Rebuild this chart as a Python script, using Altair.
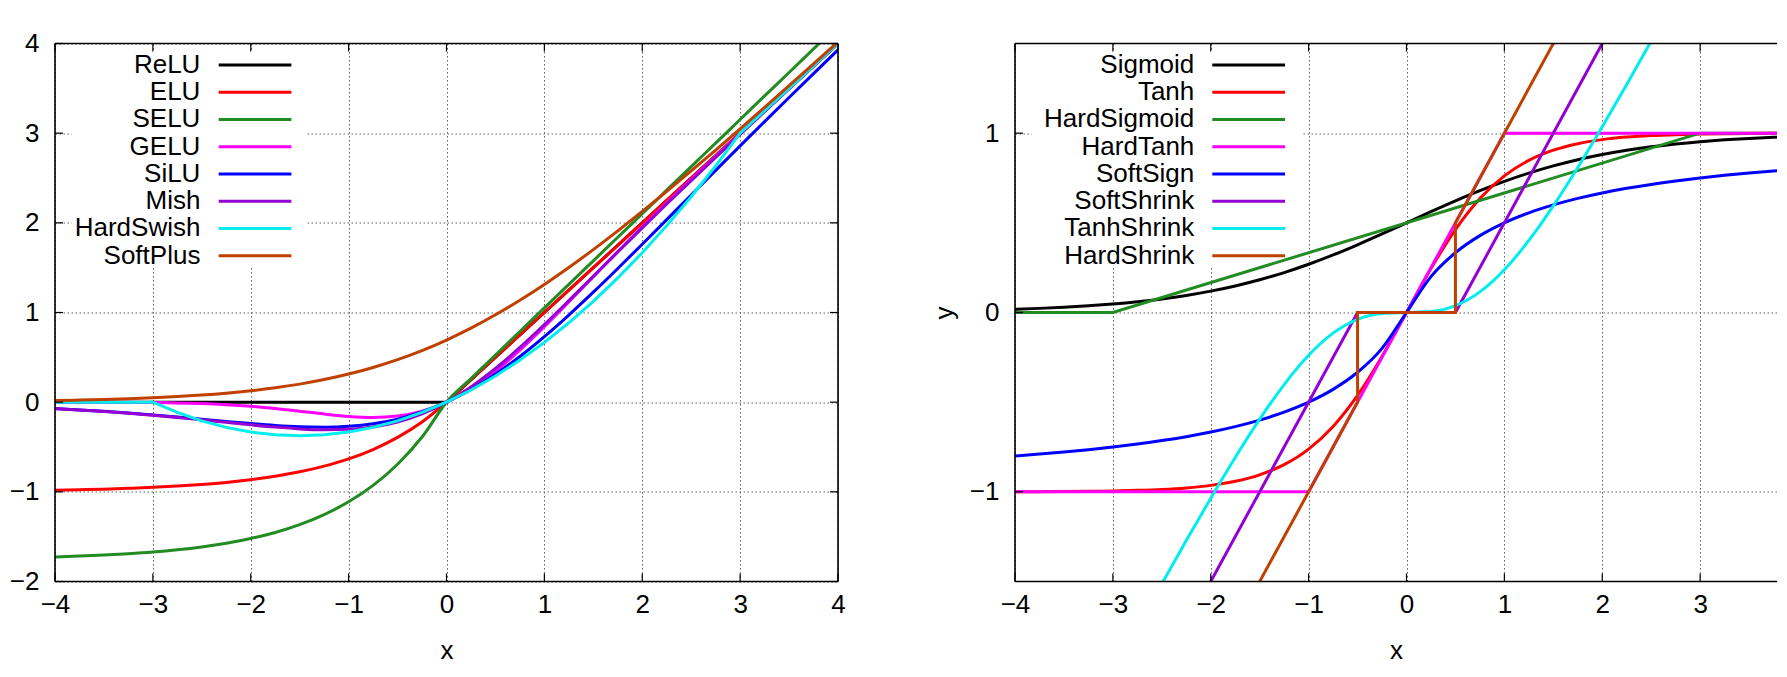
import altair as alt
import pandas as pd

FONT = "Liberation Sans"

# ---------------- data ----------------
XG = [-4.0, -3.75, -3.5, -3.25, -3.0, -2.75, -2.5, -2.25, -2.0, -1.75, -1.5, -1.25,
      -1.0, -0.75, -0.5, -0.25, 0.0, 0.25, 0.5, 0.75, 1.0, 1.25, 1.5, 1.75, 2.0,
      2.25, 2.5, 2.75, 3.0, 3.25, 3.5, 3.75, 4.0]

LEFT_XTICKS = [-4, -3, -2, -1, 0, 1, 2, 3, 4]
RIGHT_XTICKS = [-4, -3, -2, -1, 0, 1, 2, 3]
LEFT_YTICKS = [-2, -1, 0, 1, 2, 3, 4]
RIGHT_YTICKS = [-1, 0, 1]

left_names = ["ReLU", "ELU", "SELU", "GELU", "SiLU", "Mish", "HardSwish", "SoftPlus"]
right_names = ["Sigmoid", "Tanh", "HardSigmoid", "HardTanh", "SoftSign",
               "SoftShrink", "TanhShrink", "HardShrink"]
colors = ["#000000", "#ff0000", "#228b22", "#ff00ff", "#0000ff", "#9400d3",
          "#00eeee", "#c04000"]

# left panel
RELU_X = [-4, 0, 4]
RELU_Y = [0, 0, 4]
ELU = [-0.982, -0.976, -0.970, -0.961, -0.950, -0.936, -0.918, -0.895, -0.865, -0.826,
       -0.777, -0.713, -0.632, -0.528, -0.393, -0.221, 0, 0.25, 0.5, 0.75, 1, 1.25,
       1.5, 1.75, 2, 2.25, 2.5, 2.75, 3, 3.25, 3.5, 3.75, 4]
SELU = [-1.726, -1.717, -1.705, -1.690, -1.671, -1.646, -1.614, -1.573, -1.520, -1.453,
        -1.366, -1.254, -1.111, -0.928, -0.692, -0.389, 0, 0.263, 0.525, 0.788, 1.051,
        1.313, 1.576, 1.839, 2.101, 2.364, 2.627, 2.889, 3.152, 3.415, 3.677, 3.940, 4.203]
GELU = [-0.0001, -0.0003, -0.0008, -0.0019, -0.0041, -0.0082, -0.0155, -0.0275, -0.0455,
        -0.0701, -0.1002, -0.1321, -0.1587, -0.1700, -0.1543, -0.1003, 0, 0.1497, 0.3457,
        0.5800, 0.8413, 1.1179, 1.3998, 1.6799, 1.9545, 2.2225, 2.4845, 2.7418, 2.9960,
        3.2481, 3.4992, 3.7497, 3.9999]
SILU = [-0.0719, -0.0861, -0.1026, -0.1213, -0.1423, -0.1653, -0.1897, -0.2145, -0.2384,
        -0.2591, -0.2736, -0.2784, -0.2689, -0.2406, -0.1888, -0.1095, 0, 0.1406, 0.3112,
        0.5094, 0.7311, 0.9716, 1.2264, 1.4909, 1.7616, 2.0355, 2.3104, 2.5848, 2.8577,
        3.1287, 3.3974, 3.6639, 3.9281]
MISH = [-0.0726, -0.0872, -0.1041, -0.1236, -0.1456, -0.1702, -0.1968, -0.2247, -0.2525,
        -0.2780, -0.2981, -0.3084, -0.3034, -0.2765, -0.2207, -0.1299, 0, 0.1696, 0.3752,
        0.6100, 0.8651, 1.1319, 1.4034, 1.6749, 1.9440, 2.2095, 2.4714, 2.7302, 2.9865,
        3.2410, 3.4940, 3.7460, 3.9974]
HARDSWISH = [0, 0, 0, 0, 0, -0.1146, -0.2083, -0.2813, -0.3333, -0.3646, -0.375, -0.3646,
             -0.3333, -0.2813, -0.2083, -0.1146, 0, 0.1354, 0.2917, 0.4688, 0.6667, 0.8854,
             1.125, 1.3854, 1.6667, 1.9688, 2.2917, 2.6354, 3, 3.25, 3.5, 3.75, 4]
SOFTPLUS = [0.0182, 0.0232, 0.0298, 0.0380, 0.0486, 0.0620, 0.0789, 0.1002, 0.1269, 0.1602,
            0.2014, 0.2519, 0.3133, 0.3869, 0.4741, 0.5751, 0.6931, 0.8251, 0.9741, 1.1369,
            1.3133, 1.5019, 1.7014, 1.9102, 2.1269, 2.3502, 2.5789, 2.8120, 3.0486, 3.2880,
            3.5298, 3.7732, 4.0182]

# right panel
SIGMOID = [0.0180, 0.0230, 0.0293, 0.0373, 0.0474, 0.0601, 0.0759, 0.0953, 0.1192, 0.1480,
           0.1824, 0.2227, 0.2689, 0.3208, 0.3775, 0.4378, 0.5, 0.5622, 0.6225, 0.6792,
           0.7311, 0.7773, 0.8176, 0.8520, 0.8808, 0.9047, 0.9241, 0.9399, 0.9526, 0.9627,
           0.9707, 0.9770, 0.9820]
TANH = [-0.9993, -0.9989, -0.9982, -0.9970, -0.9951, -0.9918, -0.9866, -0.9780, -0.9640,
        -0.9414, -0.9051, -0.8483, -0.7616, -0.6351, -0.4621, -0.2449, 0, 0.2449, 0.4621,
        0.6351, 0.7616, 0.8483, 0.9051, 0.9414, 0.9640, 0.9780, 0.9866, 0.9918, 0.9951,
        0.9970, 0.9982, 0.9989, 0.9993]
HSIG_X = [-4, -3, 3, 4]
HSIG_Y = [0, 0, 1, 1]
HTANH_X = [-4, -1, 1, 4]
HTANH_Y = [-1, -1, 1, 1]
SOFTSIGN = [-0.8, -0.7895, -0.7778, -0.7647, -0.75, -0.7333, -0.7143, -0.6923, -0.6667,
            -0.6364, -0.6, -0.5556, -0.5, -0.4286, -0.3333, -0.2, 0, 0.2, 0.3333, 0.4286,
            0.5, 0.5556, 0.6, 0.6364, 0.6667, 0.6923, 0.7143, 0.7333, 0.75, 0.7647, 0.7778,
            0.7895, 0.8]
SSHRINK_X = [-4, -0.5, 0.5, 4]
SSHRINK_Y = [-3.5, 0, 0, 3.5]
TANHSHRINK = [-3.0007, -2.7511, -2.5018, -2.2530, -2.0049, -1.7582, -1.5134, -1.2720,
              -1.0360, -0.8086, -0.5949, -0.4017, -0.2384, -0.1149, -0.0379, -0.0051, 0,
              0.0051, 0.0379, 0.1149, 0.2384, 0.4017, 0.5949, 0.8086, 1.0360, 1.2720,
              1.5134, 1.7582, 2.0049, 2.2530, 2.5018, 2.7511, 3.0007]
HSHRINK_X = [-4, -0.5, -0.5, 0.5, 0.5, 4]
HSHRINK_Y = [-4, -0.5, 0, 0, 0.5, 4]

left_series = [
    ("ReLU", RELU_X, RELU_Y, "linear"),
    ("ELU", XG, ELU, "monotone"),
    ("SELU", XG, SELU, "monotone"),
    ("GELU", XG, GELU, "monotone"),
    ("SiLU", XG, SILU, "monotone"),
    ("Mish", XG, MISH, "monotone"),
    ("HardSwish", XG, HARDSWISH, "linear"),
    ("SoftPlus", XG, SOFTPLUS, "monotone"),
]
right_series = [
    ("Sigmoid", XG, SIGMOID, "monotone"),
    ("Tanh", XG, TANH, "monotone"),
    ("HardSigmoid", HSIG_X, HSIG_Y, "linear"),
    ("HardTanh", HTANH_X, HTANH_Y, "linear"),
    ("SoftSign", XG, SOFTSIGN, "monotone"),
    ("SoftShrink", SSHRINK_X, SSHRINK_Y, "linear"),
    ("TanhShrink", XG, TANHSHRINK, "monotone"),
    ("HardShrink", HSHRINK_X, HSHRINK_Y, "linear"),
]

# ---------------- layout ----------------
PX_PER_UNIT = 97.875
W_LEFT = 783
W_RIGHT = 762          # right panel is cut off by the page edge, as in the picture
H = 538
TL = 8
LY0, LDY = 21.5, 27.24
LW = 3


def panel(series, names, xmax, width, xticks, ydom, yvals, ytitle,
          text_x, line_x1, line_x2, box, right_border):
    color = alt.Color("series:N", scale=alt.Scale(domain=names, range=colors), legend=None)
    xscale = alt.Scale(domain=[-4, xmax], nice=False, zero=False)
    yscale = alt.Scale(domain=ydom, nice=False, zero=False)
    xenc = alt.X("x:Q", scale=xscale,
                 axis=alt.Axis(values=xticks, title="x", labelFlush=False))
    if ytitle:
        yaxis = alt.Axis(values=yvals, title=ytitle, labelFlush=False)
    else:
        yaxis = alt.Axis(values=yvals, title=None, labelFlush=False)
    yenc = alt.Y("y:Q", scale=yscale, axis=yaxis)

    layers = []
    boxdf = pd.DataFrame({"k": [0]})
    # opaque key background
    layers.append(
        alt.Chart(boxdf).mark_rect(color="white").encode(
            x=alt.value(box[0]), x2=alt.value(box[1]),
            y=alt.value(box[2]), y2=alt.value(box[3]))
    )
    for name, xs, ys, interp in series:
        df = pd.DataFrame({"series": name, "x": xs, "y": ys, "i": list(range(len(xs)))})
        layers.append(
            alt.Chart(df).mark_line(clip=True, strokeWidth=LW, interpolate=interp).encode(
                x=xenc, y=yenc, color=color, order="i:Q")
        )

    # inward tick marks (mirrored)
    tx = pd.DataFrame({"x": xticks})
    ty = pd.DataFrame({"y": yvals})
    layers.append(alt.Chart(tx).mark_rule(color="black", strokeWidth=1.2).encode(
        x=xenc, y=alt.value(0), y2=alt.value(TL)))
    layers.append(alt.Chart(tx).mark_rule(color="black", strokeWidth=1.2).encode(
        x=xenc, y=alt.value(H), y2=alt.value(H - TL)))
    layers.append(alt.Chart(ty).mark_rule(color="black", strokeWidth=1.2).encode(
        y=yenc, x=alt.value(0), x2=alt.value(TL)))
    if right_border:
        layers.append(alt.Chart(ty).mark_rule(color="black", strokeWidth=1.2).encode(
            y=yenc, x=alt.value(width), x2=alt.value(width - TL)))

    # border
    layers.append(alt.Chart(boxdf).mark_rule(color="black", strokeWidth=1.6).encode(
        x=alt.value(0), x2=alt.value(width), y=alt.value(0)))
    layers.append(alt.Chart(boxdf).mark_rule(color="black", strokeWidth=1.6).encode(
        x=alt.value(0), x2=alt.value(width), y=alt.value(H)))
    layers.append(alt.Chart(boxdf).mark_rule(color="black", strokeWidth=1.6).encode(
        x=alt.value(0), y=alt.value(0), y2=alt.value(H)))
    if right_border:
        layers.append(alt.Chart(boxdf).mark_rule(color="black", strokeWidth=1.6).encode(
            x=alt.value(width), y=alt.value(0), y2=alt.value(H)))

    # key (label on the left, sample line on the right)
    leg = pd.DataFrame({"series": names, "k": list(range(len(names)))})
    calc = f"{LY0} + {LDY} * datum.k"
    layers.append(
        alt.Chart(leg).transform_calculate(ly=calc).mark_text(
            align="right", baseline="middle", font=FONT, fontSize=26, color="black").encode(
            x=alt.value(text_x), y=alt.Y("ly:Q", scale=None), text="series:N")
    )
    layers.append(
        alt.Chart(leg).transform_calculate(ly=calc).mark_rule(strokeWidth=3).encode(
            x=alt.value(line_x1), x2=alt.value(line_x2),
            y=alt.Y("ly:Q", scale=None), color=color)
    )
    return alt.layer(*layers).properties(width=width, height=H)


left = panel(left_series, left_names, 4, W_LEFT, LEFT_XTICKS, [-2, 4], LEFT_YTICKS, None,
             145.4, 163.7, 236.4, (17, 252, 7.5, 224.5), True)
right = panel(right_series, right_names, -4 + W_RIGHT / PX_PER_UNIT, W_RIGHT, RIGHT_XTICKS,
              [-1.5, 1.5], RIGHT_YTICKS, "y",
              179.3, 197.3, 270.0, (17, 287, 7.5, 224.5), False)

chart = alt.hconcat(left, right, spacing=177, bounds="flush").properties(
    padding={"left": 1, "top": 22.5, "right": 0, "bottom": 0}
).configure_view(
    stroke=None
).configure_axis(
    labelFont=FONT, labelFontSize=26, labelColor="black",
    titleFont=FONT, titleFontSize=26, titleFontWeight="normal", titleColor="black",
    grid=True, gridColor="#606060", gridDash=[1.5, 2.5], gridWidth=1,
    domain=False, ticks=False, tickSize=0
).configure_axisX(
    labelPadding=10, titlePadding=20
).configure_axisY(
    labelPadding=16, titlePadding=12
)

chart.save("out.html", embed_options={"renderer": "svg", "actions": False})
